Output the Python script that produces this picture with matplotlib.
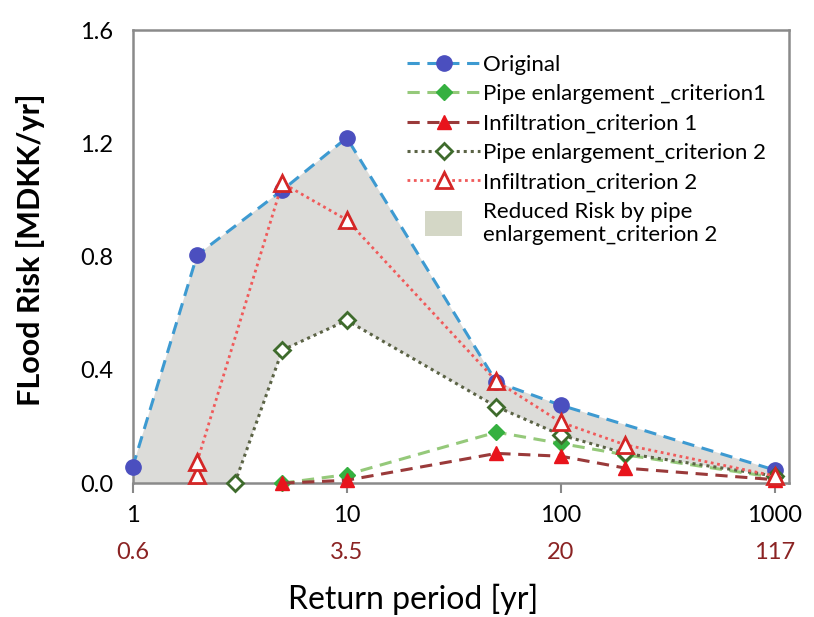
import numpy as np
import matplotlib
matplotlib.use("Agg")
import matplotlib.pyplot as plt
from matplotlib.patches import Patch, Rectangle
from matplotlib.legend_handler import HandlerPatch

plt.rcParams['font.family'] = ['Lato', 'DejaVu Sans']

# return periods [yr] and flood risk [MDKK/yr]
x_orig = [1, 2, 5, 10, 50, 100, 1000]
y_orig = [0.057, 0.806, 1.035, 1.22, 0.357, 0.275, 0.046]

x_pipe1 = [5, 10, 50, 100, 200, 1000]
y_pipe1 = [0.0, 0.03, 0.18, 0.14, 0.10, 0.02]

x_inf1 = [5, 10, 50, 100, 200, 1000]
y_inf1 = [0.0, 0.01, 0.105, 0.095, 0.053, 0.012]

x_pipe2 = [3, 5, 10, 50, 100, 200, 1000]
y_pipe2 = [0.0, 0.47, 0.575, 0.27, 0.17, 0.105, 0.025]

x_inf2 = [2, 2, 5, 10, 50, 100, 200, 1000]
y_inf2 = [0.03, 0.075, 1.06, 0.93, 0.36, 0.215, 0.135, 0.025]

xticks = [1, 10, 100, 1000]
xtick_labels = ["1", "10", "100", "1000"]
rain_labels = ["0.6", "3.5", "20", "117"]
yticks = [0.0, 0.4, 0.8, 1.2, 1.6]


def small_box(legend, orig_handle, xdescent, ydescent, width, height, fontsize):
    # shorter box than the line handles, like the original legend
    w = width * 0.5
    h = height * 1.6
    return Rectangle((-xdescent + (width - w) / 2, -ydescent + (height - h) / 2), w, h)


fig = plt.figure(figsize=(8.14, 6.17), dpi=100)
ax = fig.add_axes([0.163, 0.217, 0.806, 0.734])

# shaded area between original and pipe enlargement criterion 2
poly_x = x_orig + x_pipe2[::-1] + [1]
poly_y = y_orig + y_pipe2[::-1] + [0.0]
ax.fill(poly_x, poly_y, color='#dcdcd9', lw=0, zorder=1)

ax.plot(x_orig, y_orig, ls=(0, (4, 2.5)), color='#3d9ad1', lw=2.2,
        marker='o', ms=11, mfc='#4b4fbf', mec='#4b4fbf', clip_on=False, zorder=3,
        label='Original')
ax.plot(x_pipe1, y_pipe1, ls=(0, (4, 2.5)), color='#95c97a', lw=2.2,
        marker='D', ms=8, mfc='#35b040', mec='#35b040', clip_on=False, zorder=4,
        label='Pipe enlargement _criterion1')
ax.plot(x_inf1, y_inf1, ls=(0, (4, 2.5)), color='#9a3a3a', lw=2.2,
        marker='^', ms=10, mfc='#e8141c', mec='#e8141c', clip_on=False, zorder=5,
        label='Infiltration_criterion 1')
ax.plot(x_pipe2, y_pipe2, ls=(0, (1, 1.3)), color='#5b6345', lw=2.2,
        marker='D', ms=8.5, mfc='white', mec='#3e6b2c', mew=2, clip_on=False, zorder=4,
        label='Pipe enlargement_criterion 2')
ax.plot(x_inf2, y_inf2, ls=(0, (1, 1.3)), color='#f05a5a', lw=2.0,
        marker='^', ms=11, mfc='white', mec='#d42626', mew=2, clip_on=False, zorder=6,
        label='Infiltration_criterion 2')

ax.set_xscale('log')
ax.set_xlim(1, 1160)
ax.set_ylim(0, 1.6)
ax.set_xticks(xticks)
ax.set_xticklabels(xtick_labels)
ax.minorticks_off()
ax.set_yticks(yticks)
ax.set_yticklabels([f"{v:.1f}" for v in yticks])
ax.tick_params(axis='x', direction='out', length=7, width=1.5, color='#888888',
               labelsize=17, pad=9)
ax.tick_params(axis='y', length=0, labelsize=17, pad=14)
for s in ax.spines.values():
    s.set_color('#8a8a8a')
    s.set_linewidth(1.8)

# second row of labels under the x ticks
for xv, lab in zip(xticks, rain_labels):
    ax.text(xv, -0.153, lab, transform=ax.get_xaxis_transform(), ha='center', va='center',
            fontsize=17, color='#8b2323')

fig.text(0.507, 0.028, "Return period [yr]", ha='center', va='center', fontsize=23)
fig.text(0.037, 0.595, "FLood Risk [MDKK/yr]", ha='center', va='center', rotation=90,
         fontsize=22, fontweight='bold')

handles, labels = ax.get_legend_handles_labels()
box = Patch(facecolor='#d4d7c6', edgecolor='none')
handles.append(box)
labels.append("Reduced Risk by pipe\nenlargement_criterion 2")
ax.legend(handles, labels, loc='upper right', bbox_to_anchor=(0.985, 0.975), frameon=False,
          fontsize=16, handlelength=3.3, handletextpad=0.1, labelspacing=0.42,
          numpoints=1, borderaxespad=0.2,
          handler_map={box: HandlerPatch(patch_func=small_box)})

fig.savefig("out.png", dpi=100)
